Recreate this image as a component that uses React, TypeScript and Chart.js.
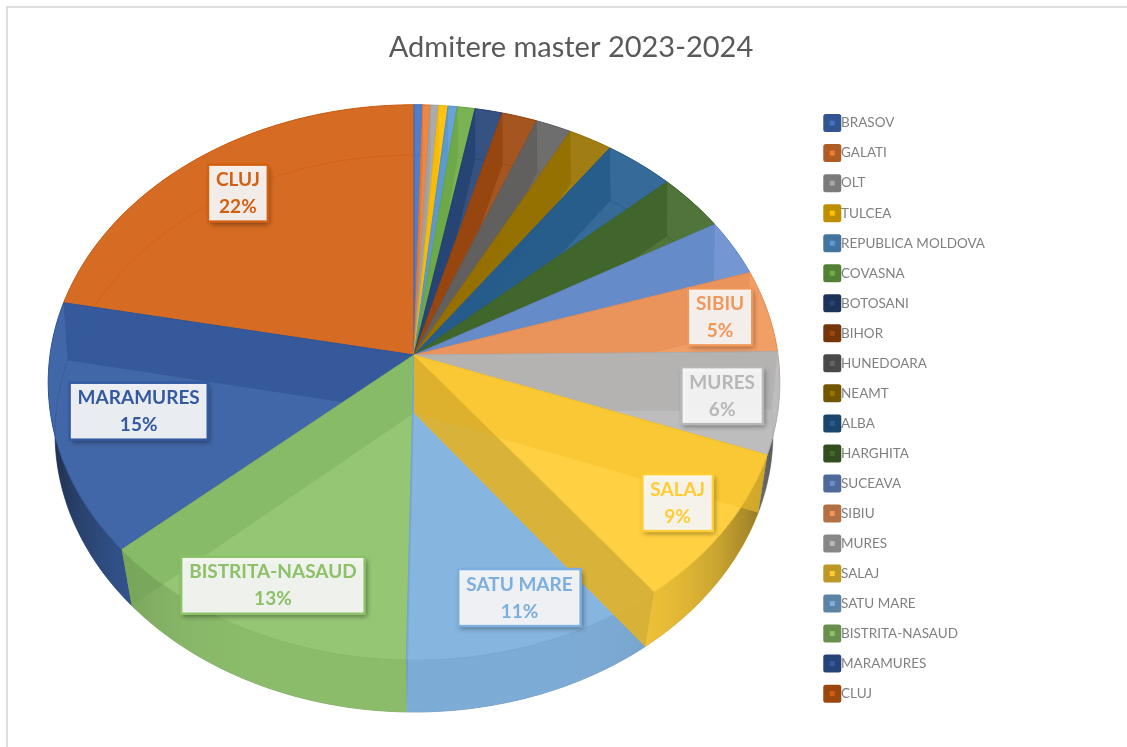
import React, { useEffect, useRef } from "react";
import { Chart, registerables } from "chart.js";

Chart.register(...registerables);

const titleText = "Admitere master 2023-2024";
const categories = [
  "BRASOV", "GALATI", "OLT", "TULCEA", "REPUBLICA MOLDOVA", "COVASNA", "BOTOSANI", "BIHOR", "HUNEDOARA", "NEAMT",
  "ALBA", "HARGHITA", "SUCEAVA", "SIBIU", "MURES", "SALAJ", "SATU MARE", "BISTRITA-NASAUD", "MARAMURES", "CLUJ",
];
const values = [0.42, 0.38, 0.4, 0.44, 0.45, 0.86, 1.33, 1.72, 1.73, 2.15, 3.42, 3.4, 3.3, 4.8, 5.9, 8.9, 10.7, 13.2, 14.6, 21.9];
const colors = [
  "#4472C4", "#ED7D31", "#A5A5A5", "#FFC000", "#5B9BD5", "#70AD47", "#264478", "#9E480E", "#636363", "#997300",
  "#255E91", "#43682B", "#698ED0", "#F1975A", "#B7B7B7", "#FFCD33", "#7CAFDD", "#8CC168", "#335AA1", "#D26012",
];
// how far out along its mid-angle each labelled slice carries its label (fraction of the radius)
const labelRadius: Record<string, number> = {
  SIBIU: 0.864, MURES: 0.847, SALAJ: 0.856, "SATU MARE": 0.854, "BISTRITA-NASAUD": 0.852, MARAMURES: 0.768, CLUJ: 0.809,
};
const paintOrder = [19, 18, 17, 16, 0, 1, 2, 3, 4, 5, 6, 7, 8, 9, 10, 11, 12, 13, 14, 15];

type Face = { cx: number; cy: number; rx: number; ry: number; k: number };
const TOP: Face = { cx: 414, cy: 355, rx: 364, ry: 275, k: 0.099 };
const BOTTOM: Face = { cx: 414, cy: 413, rx: 358, ry: 277, k: 0.0736 };
const FONT = "Lato, 'Open Sans', sans-serif";

function project(f: Face, a: number, r = 1): [number, number] {
  const u = r * Math.cos(a);
  const v = r * Math.sin(a);
  const w = 1 - f.k * v;
  return [f.cx + (f.rx * u) / w, f.cy + (f.ry * v) / w];
}
function rgb(hex: string): number[] {
  const n = parseInt(hex.slice(1), 16);
  return [(n >> 16) & 255, (n >> 8) & 255, n & 255];
}
function rgba(hex: string, shade: number, alpha: number) {
  const [r, g, b] = rgb(hex);
  return `rgba(${Math.round(r * shade)},${Math.round(g * shade)},${Math.round(b * shade)},${alpha})`;
}
function arcAngles(a0: number, a1: number) {
  const n = Math.max(2, Math.ceil((a1 - a0) / 0.02));
  const out: number[] = [];
  for (let i = 0; i <= n; i++) out.push(a0 + ((a1 - a0) * i) / n);
  return out;
}
function sector(ctx: CanvasRenderingContext2D, f: Face, a0: number, a1: number) {
  ctx.beginPath();
  ctx.moveTo(f.cx, f.cy);
  for (const a of arcAngles(a0, a1)) {
    const [x, y] = project(f, a);
    ctx.lineTo(x, y);
  }
  ctx.closePath();
}
function rimLine(ctx: CanvasRenderingContext2D, f: Face, a0: number, a1: number) {
  ctx.beginPath();
  arcAngles(a0, a1).forEach((a, i) => {
    const [x, y] = project(f, a);
    if (i === 0) ctx.moveTo(x, y);
    else ctx.lineTo(x, y);
  });
}
function lidOutline(ctx: CanvasRenderingContext2D, withPage: boolean, chart: any) {
  ctx.beginPath();
  if (withPage) ctx.rect(0, 0, chart.width, chart.height);
  arcAngles(0, Math.PI * 2).forEach((a, i) => {
    const [x, y] = project(TOP, a);
    if (i === 0) ctx.moveTo(x, y);
    else ctx.lineTo(x, y);
  });
  ctx.closePath();
}
function sidePath(ctx: CanvasRenderingContext2D, a0: number, a1: number) {
  ctx.beginPath();
  arcAngles(a0, a1).forEach((a, k) => {
    const [x, y] = project(TOP, a);
    if (k === 0) ctx.moveTo(x, y);
    else ctx.lineTo(x, y);
  });
  arcAngles(a0, a1).reverse().forEach((a) => {
    const [x, y] = project(BOTTOM, a);
    ctx.lineTo(x, y);
  });
  ctx.closePath();
}
function sideGradient(ctx: CanvasRenderingContext2D, color: string, alpha: number) {
  const g = ctx.createLinearGradient(TOP.cx - TOP.rx, 0, TOP.cx + TOP.rx, 0);
  for (let i = 0; i <= 24; i++) {
    const t = i / 24;
    const s = 1 - 0.58 * Math.pow(Math.abs(2 * t - 1), 6);
    g.addColorStop(t, rgba(color, 0.96 * s, alpha));
  }
  return g;
}

const pie3d = {
  id: "pie3d",
  beforeDraw(chart: any) {
    const ctx = chart.ctx as CanvasRenderingContext2D;
    ctx.save();
    ctx.fillStyle = "#ffffff";
    ctx.fillRect(0, 0, chart.width, chart.height);
    ctx.strokeStyle = "#dedede";
    ctx.lineWidth = 2;
    ctx.beginPath();
    ctx.moveTo(7, chart.height);
    ctx.lineTo(7, 7);
    ctx.lineTo(chart.width, 7);
    ctx.stroke();
    ctx.restore();
  },
  beforeDatasetDraw(chart: any) {
    const ctx = chart.ctx as CanvasRenderingContext2D;
    const arcs = chart.getDatasetMeta(0).data;
    ctx.save();
    ctx.lineJoin = "round";
    for (const i of paintOrder) {
      const { startAngle: a0, endAngle: a1 } = arcs[i];
      const c = colors[i];
      // floor of the slice
      sector(ctx, BOTTOM, a0, a1);
      ctx.fillStyle = rgba(c, 1, 0.5);
      ctx.fill();
      rimLine(ctx, BOTTOM, a0, a1);
      ctx.strokeStyle = rgba(c, 0.75, 0.7);
      ctx.lineWidth = 1;
      ctx.stroke();
      // outer wall, seen through the lid at the back
      ctx.save();
      lidOutline(ctx, false, chart);
      ctx.clip();
      sidePath(ctx, a0, a1);
      ctx.fillStyle = rgba(c, 1, 0.5);
      ctx.fill();
      ctx.restore();
      // outer wall, seen directly at the front
      ctx.save();
      lidOutline(ctx, true, chart);
      ctx.clip("evenodd");
      sidePath(ctx, a0, a1);
      ctx.fillStyle = sideGradient(ctx, c, 0.92);
      ctx.fill();
      ctx.restore();
      // flat inner walls
      for (const a of [a0, a1]) {
        const [tx, ty] = project(TOP, a);
        const [bx, by] = project(BOTTOM, a);
        ctx.beginPath();
        ctx.moveTo(TOP.cx, TOP.cy);
        ctx.lineTo(tx, ty);
        ctx.lineTo(bx, by);
        ctx.lineTo(BOTTOM.cx, BOTTOM.cy);
        ctx.closePath();
        ctx.fillStyle = rgba(c, 0.87, 0.85);
        ctx.fill();
      }
      // lid
      sector(ctx, TOP, a0, a1);
      ctx.fillStyle = rgba(c, 1, 0.85);
      ctx.fill();
      ctx.strokeStyle = rgba(c, 0.95, 1);
      ctx.lineWidth = 1;
      ctx.stroke();
    }
    ctx.restore();
    return false;
  },
  afterDatasetsDraw(chart: any) {
    const ctx = chart.ctx as CanvasRenderingContext2D;
    const arcs = chart.getDatasetMeta(0).data;
    const total = values.reduce((s, v) => s + v, 0);
    ctx.save();
    ctx.font = `bold 19px ${FONT}`;
    ctx.textAlign = "center";
    ctx.textBaseline = "middle";
    categories.forEach((name, i) => {
      const r = labelRadius[name];
      if (!r) return;
      const mid = (arcs[i].startAngle + arcs[i].endAngle) / 2;
      const [x, y] = project(TOP, mid, r);
      const w = ctx.measureText(name).width + 16;
      const h = 57;
      ctx.save();
      ctx.shadowColor = "rgba(0,0,0,0.45)";
      ctx.shadowBlur = 5;
      ctx.shadowOffsetX = 2;
      ctx.shadowOffsetY = 3;
      ctx.fillStyle = "rgba(255,255,255,0.9)";
      ctx.fillRect(x - w / 2, y - h / 2, w, h);
      ctx.restore();
      ctx.strokeStyle = colors[i];
      ctx.lineWidth = 2.5;
      ctx.strokeRect(x - w / 2, y - h / 2, w, h);
      ctx.fillStyle = colors[i];
      ctx.fillText(name, x, y - 13);
      ctx.fillText(`${Math.round((values[i] / total) * 100)}%`, x, y + 14);
    });
    ctx.restore();
  },
  afterDraw(chart: any) {
    const ctx = chart.ctx as CanvasRenderingContext2D;
    const boxes = chart.legend.legendHitBoxes;
    ctx.save();
    boxes.forEach((b: any, i: number) => {
      const x = b.left - 1;
      const y = b.top + b.height / 2 - 9;
      ctx.fillStyle = rgba(colors[i], 0.74, 1);
      ctx.beginPath();
      ctx.roundRect(x, y, 18, 18, 2.5);
      ctx.fill();
      ctx.fillStyle = rgba(colors[i], 1, 1);
      ctx.fillRect(x + 6.5, y + 6.5, 5, 5);
    });
    ctx.restore();
  },
};

export default function App() {
  const ref = useRef<HTMLCanvasElement | null>(null);
  useEffect(() => {
    if (!ref.current) return;
    const chart = new Chart(ref.current, {
      type: "pie",
      data: {
        labels: categories,
        datasets: [{ data: values, backgroundColor: colors, borderWidth: 0 }],
      },
      options: {
        animation: false,
        responsive: false,
        layout: { padding: { left: 147, right: 132, top: 0, bottom: 0 } },
        plugins: {
          tooltip: { enabled: false },
          title: {
            display: true,
            text: titleText,
            color: "#595959",
            font: { family: FONT, size: 29, weight: "normal" },
            padding: { top: 30, bottom: 35 },
          },
          legend: {
            display: true,
            position: "right",
            align: "start",
            fullSize: false,
            labels: {
              boxWidth: 10,
              boxHeight: 10,
              padding: 16.53,
              color: "#808080",
              font: { family: FONT, size: 13.5 },
              generateLabels: () =>
                categories.map((text, index) => ({
                  text,
                  index,
                  fillStyle: "rgba(0,0,0,0)",
                  strokeStyle: "rgba(0,0,0,0)",
                  lineWidth: 0,
                  hidden: false,
                  fontColor: "#808080",
                })),
            },
          },
        },
      } as any,
      plugins: [pie3d as any],
    });
    return () => chart.destroy();
  }, []);
  return (
    <div style={{ position: "absolute", left: 0, top: 0, width: 1127, height: 747, overflow: "hidden" }}>
      <canvas ref={ref} width={1127} height={747} style={{ display: "block" }} />
    </div>
  );
}
